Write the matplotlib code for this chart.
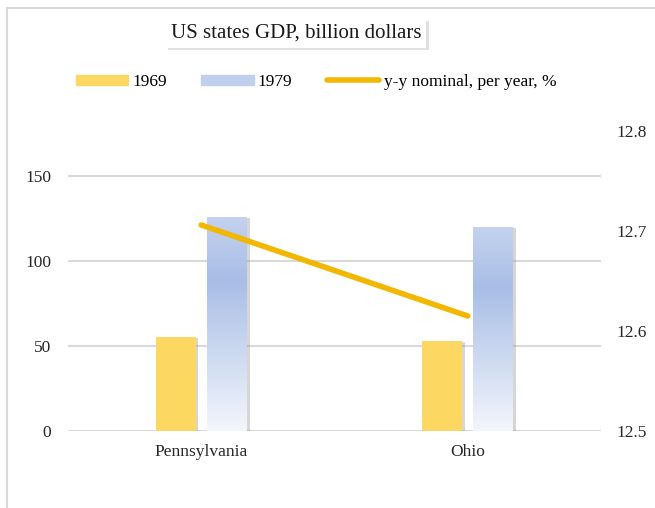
import numpy as np
import matplotlib.pyplot as plt
import matplotlib.patheffects as pe
from matplotlib.colors import LinearSegmentedColormap
from matplotlib.patches import Rectangle
from matplotlib.lines import Line2D

plt.rcParams['font.family'] = ['Liberation Serif', 'DejaVu Serif']

states = ['Pennsylvania', 'Ohio']
gdp_1969 = [55.3, 53.0]
gdp_1979 = [126.0, 120.0]
growth = [12.706, 12.615]  # y-y nominal, per year, %

left_ticks = [0, 50, 100, 150]
right_ticks = [12.5, 12.6, 12.7, 12.8]

W, H = 655, 508
fig = plt.figure(figsize=(W / 100, H / 100), dpi=100)
fig.patch.set_facecolor('white')

# outer chart frame (right/bottom edges fall outside the picture)
fig.patches.append(Rectangle((7 / W, -0.1), 1.2, 1 - 8 / H + 0.1, transform=fig.transFigure,
                             fill=False, edgecolor='#d9d9d9', linewidth=1.5))

ax = fig.add_axes([68 / W, 1 - 431 / H, 533 / W, 300 / H])
ax2 = ax.twinx()

x = np.arange(len(states))
bw = 0.15
off = 0.096
yellow = '#fcd762'
shadow = [pe.SimplePatchShadow(offset=(2, -1), shadow_rgbFace='#8c8c8c', alpha=0.35), pe.Normal()]

ax.set_xlim(-0.5, 1.5)
ax.set_ylim(0, 176.5)
for v in left_ticks:
    ax.axhline(v, color='#d9d9d9', linewidth=1.5, zorder=0)

bars_a = ax.bar(x - off, gdp_1969, bw, color=yellow, zorder=2)
bars_b = ax.bar(x + off, gdp_1979, bw, color='#b4c6ea', zorder=2)
for b in list(bars_a) + list(bars_b):
    b.set_path_effects(shadow)

# gradient fill for 1979 bars
cmap = LinearSegmentedColormap.from_list('blu', [(0, '#f3f6fc'), (0.7, '#a9bee6'), (1, '#c4d2ee')])
grad = np.linspace(0, 1, 256).reshape(-1, 1)
for b in bars_b:
    x0, y0 = b.get_x(), b.get_y()
    im = ax.imshow(grad, cmap=cmap, origin='lower', aspect='auto',
                   extent=(x0, x0 + b.get_width(), y0, y0 + b.get_height()), zorder=3)
    im.set_clip_path(b)
ax.set_xlim(-0.5, 1.5)
ax.set_ylim(0, 176.5)

ax2.plot(x, growth, color='#f2b700', linewidth=4, solid_capstyle='round', zorder=5)
ax2.set_ylim(12.5, 12.8)
ax2.set_yticks(right_ticks)
ax2.set_yticklabels([f'{v:.1f}' for v in right_ticks])
ax.set_zorder(1)
ax2.set_zorder(2)
ax2.patch.set_visible(False)

ax.set_yticks(left_ticks)
ax.set_xticks(x)
ax.set_xticklabels(states)
for a in (ax, ax2):
    for s in a.spines.values():
        s.set_visible(False)
    a.tick_params(length=0, labelsize=12.5, colors='#262626')
ax.tick_params(axis='y', pad=12)
ax.tick_params(axis='x', pad=9)
ax2.tick_params(axis='y', pad=11)

# title in a box with shadow
fig.text(296 / W, 1 - 33 / H, 'US states GDP, billion dollars', ha='center', va='center',
         fontsize=15, color='#1a1a1a',
         bbox=dict(boxstyle='square,pad=0.25', facecolor='white', edgecolor='none',
                   path_effects=[pe.SimplePatchShadow(offset=(2, -2), shadow_rgbFace='#999999',
                                                      alpha=0.3), pe.Normal()]))

# legend
handles = [Rectangle((0, 0), 1, 1, color=yellow),
           Rectangle((0, 0), 1, 1, color='#c0cfed'),
           Line2D([], [], color='#f2b700', linewidth=4, solid_capstyle='round')]
fig.legend(handles, ['1969', '1979', 'y-y nominal, per year, %'], loc='center',
           bbox_to_anchor=(316 / W, 1 - 82 / H), ncol=3, frameon=False, fontsize=12.5,
           handlelength=3.0, handleheight=0.55, handletextpad=0.25, columnspacing=2.0)

fig.savefig('out.png', dpi=100)
